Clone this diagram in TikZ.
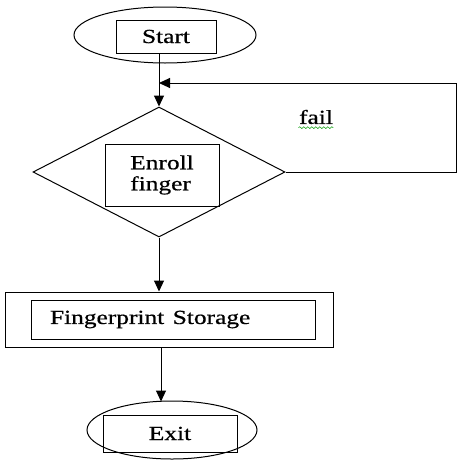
\documentclass[tikz,border=0pt]{standalone}
\usepackage{fontspec}
\setmainfont[FakeBold=0.6]{Liberation Serif}
\usetikzlibrary{shapes.geometric,arrows.meta,decorations.pathmorphing}
\newcommand{\widetxt}[1]{\scalebox{1.27}[1]{#1}}
\begin{document}
\begin{tikzpicture}[x=1pt,y=-1pt,
  line width=1pt,
  every node/.style={font=\fontsize{20}{21}\selectfont, inner sep=0pt},
  oval/.style={draw, ellipse},
  box/.style={draw, rectangle},
  arr/.style={-{Triangle[width=10pt,length=11pt]}}]
\useasboundingbox (0,0) rectangle (462,461);

% Start
\node[oval, minimum width=182pt, minimum height=56pt] (startE) at (165,35) {};
\node[box, minimum width=100pt, minimum height=33pt] (startB) at (166,36.5) {\widetxt{Start}};

% Decision diamond
\node[draw, diamond, minimum width=252pt, minimum height=130pt] (dia) at (159,172) {};
\node[box, minimum width=114pt, minimum height=62pt, align=left] (enroll) at (162,175)
  {\widetxt{Enroll}\\\widetxt{finger}};

% Storage
\node[box, minimum width=328pt, minimum height=55pt] (storO) at (169,319.5) {};
\node[box, minimum height=39pt, text width=246pt, inner xsep=19pt, align=left] (storI) at (173,319.5)
  {\widetxt{Fingerprint Storage}};

% Exit
\node[oval, minimum width=170pt, minimum height=58pt] (exitE) at (172,430) {};
\node[box, minimum width=134pt, minimum height=37pt] (exitB) at (170,433.5) {\widetxt{Exit}};

% Connectors
\draw[arr] (startB.south -| dia.north) -- (dia.north);
\coordinate (fbA) at (456,172);
\coordinate (fbB) at (456,83);
\coordinate (fbC) at (159,83);
\draw[arr] (dia.east) -- (fbA) -- (fbB) -- (fbC);
\node (fail) at (316,117) {\widetxt{fail}};
\draw[green!60!black, line width=0.5pt, decorate, decoration={snake, amplitude=0.9pt, segment length=4pt}]
  ([yshift=-3pt]fail.south west) -- ([yshift=-3pt]fail.south east);

\draw[arr] (dia.south) -- (dia.south |- storO.north);
\draw[arr] (161,347) -- (161,401.5);
\end{tikzpicture}
\end{document}
